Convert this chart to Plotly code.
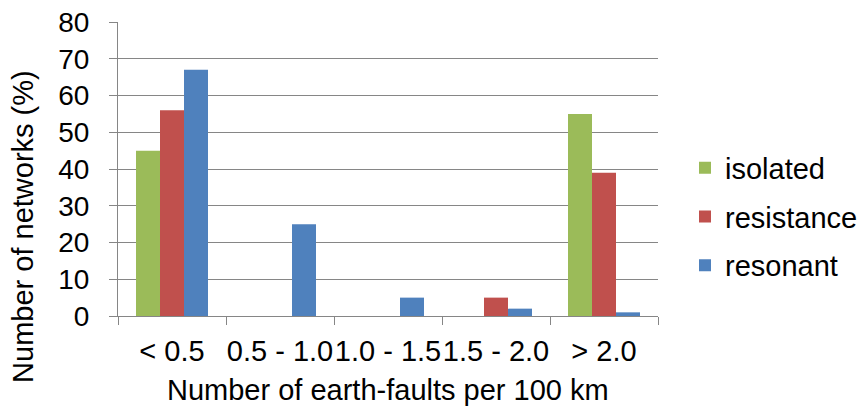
import plotly.graph_objects as go

categories = ["< 0.5", "0.5 - 1.0", "1.0 - 1.5", "1.5 - 2.0", "> 2.0"]
isolated = [45, 0, 0, 0, 55]
resistance = [56, 0, 0, 5, 39]
resonant = [67, 25, 5, 2, 1]

series = [
    ("isolated", isolated, "#9BBB59"),
    ("resistance", resistance, "#C0504D"),
    ("resonant", resonant, "#4F81BD"),
]

x_title = "Number of earth-faults per 100 km"
y_title = "Number of networks (%)"

font_family = "Liberation Sans, Arial, sans-serif"
fs = 29
axis_grey = "#868686"

fig = go.Figure()
for name, vals, color in series:
    fig.add_trace(go.Bar(
        x=categories, y=vals, name=name,
        marker=dict(color=color, line=dict(width=0)),
        legendgroup=name,
    ))

fig.update_layout(
    width=858, height=407,
    margin=dict(l=118, r=200, t=22, b=91, autoexpand=False),
    paper_bgcolor="white", plot_bgcolor="white",
    barmode="group", bargap=1/3, bargroupgap=0,
    font=dict(family=font_family, size=fs, color="black"),
    showlegend=True,
    legend=dict(
        x=1.05, y=0.337, xanchor="left", yanchor="middle",
        font=dict(size=fs), tracegroupgap=8,
        itemwidth=30, bgcolor="rgba(0,0,0,0)",
    ),
    xaxis=dict(
        showgrid=False, showline=True, linecolor=axis_grey, linewidth=1,
        ticks="outside", tickson="boundaries", ticklen=8, tickcolor=axis_grey,
        tickangle=0, automargin=False, ticklabelstandoff=9,
        tickfont=dict(size=fs),
    ),
    yaxis=dict(
        range=[0, 80], dtick=10, showgrid=True, gridcolor=axis_grey, gridwidth=1,
        showline=True, linecolor=axis_grey, linewidth=1,
        ticks="outside", ticklen=8, tickcolor=axis_grey,
        automargin=False, ticklabelstandoff=14, zeroline=False,
        tickfont=dict(size=28),
    ),
    annotations=[
        dict(text=x_title, xref="paper", yref="paper", x=0.5, y=-0.2517,
             xanchor="center", yanchor="middle", showarrow=False,
             font=dict(size=fs)),
        dict(text=y_title, xref="paper", yref="paper", x=-0.1759, y=0.303,
             xanchor="center", yanchor="middle", textangle=-90, showarrow=False,
             font=dict(size=fs)),
    ],
)

fig.write_html("out.html")
